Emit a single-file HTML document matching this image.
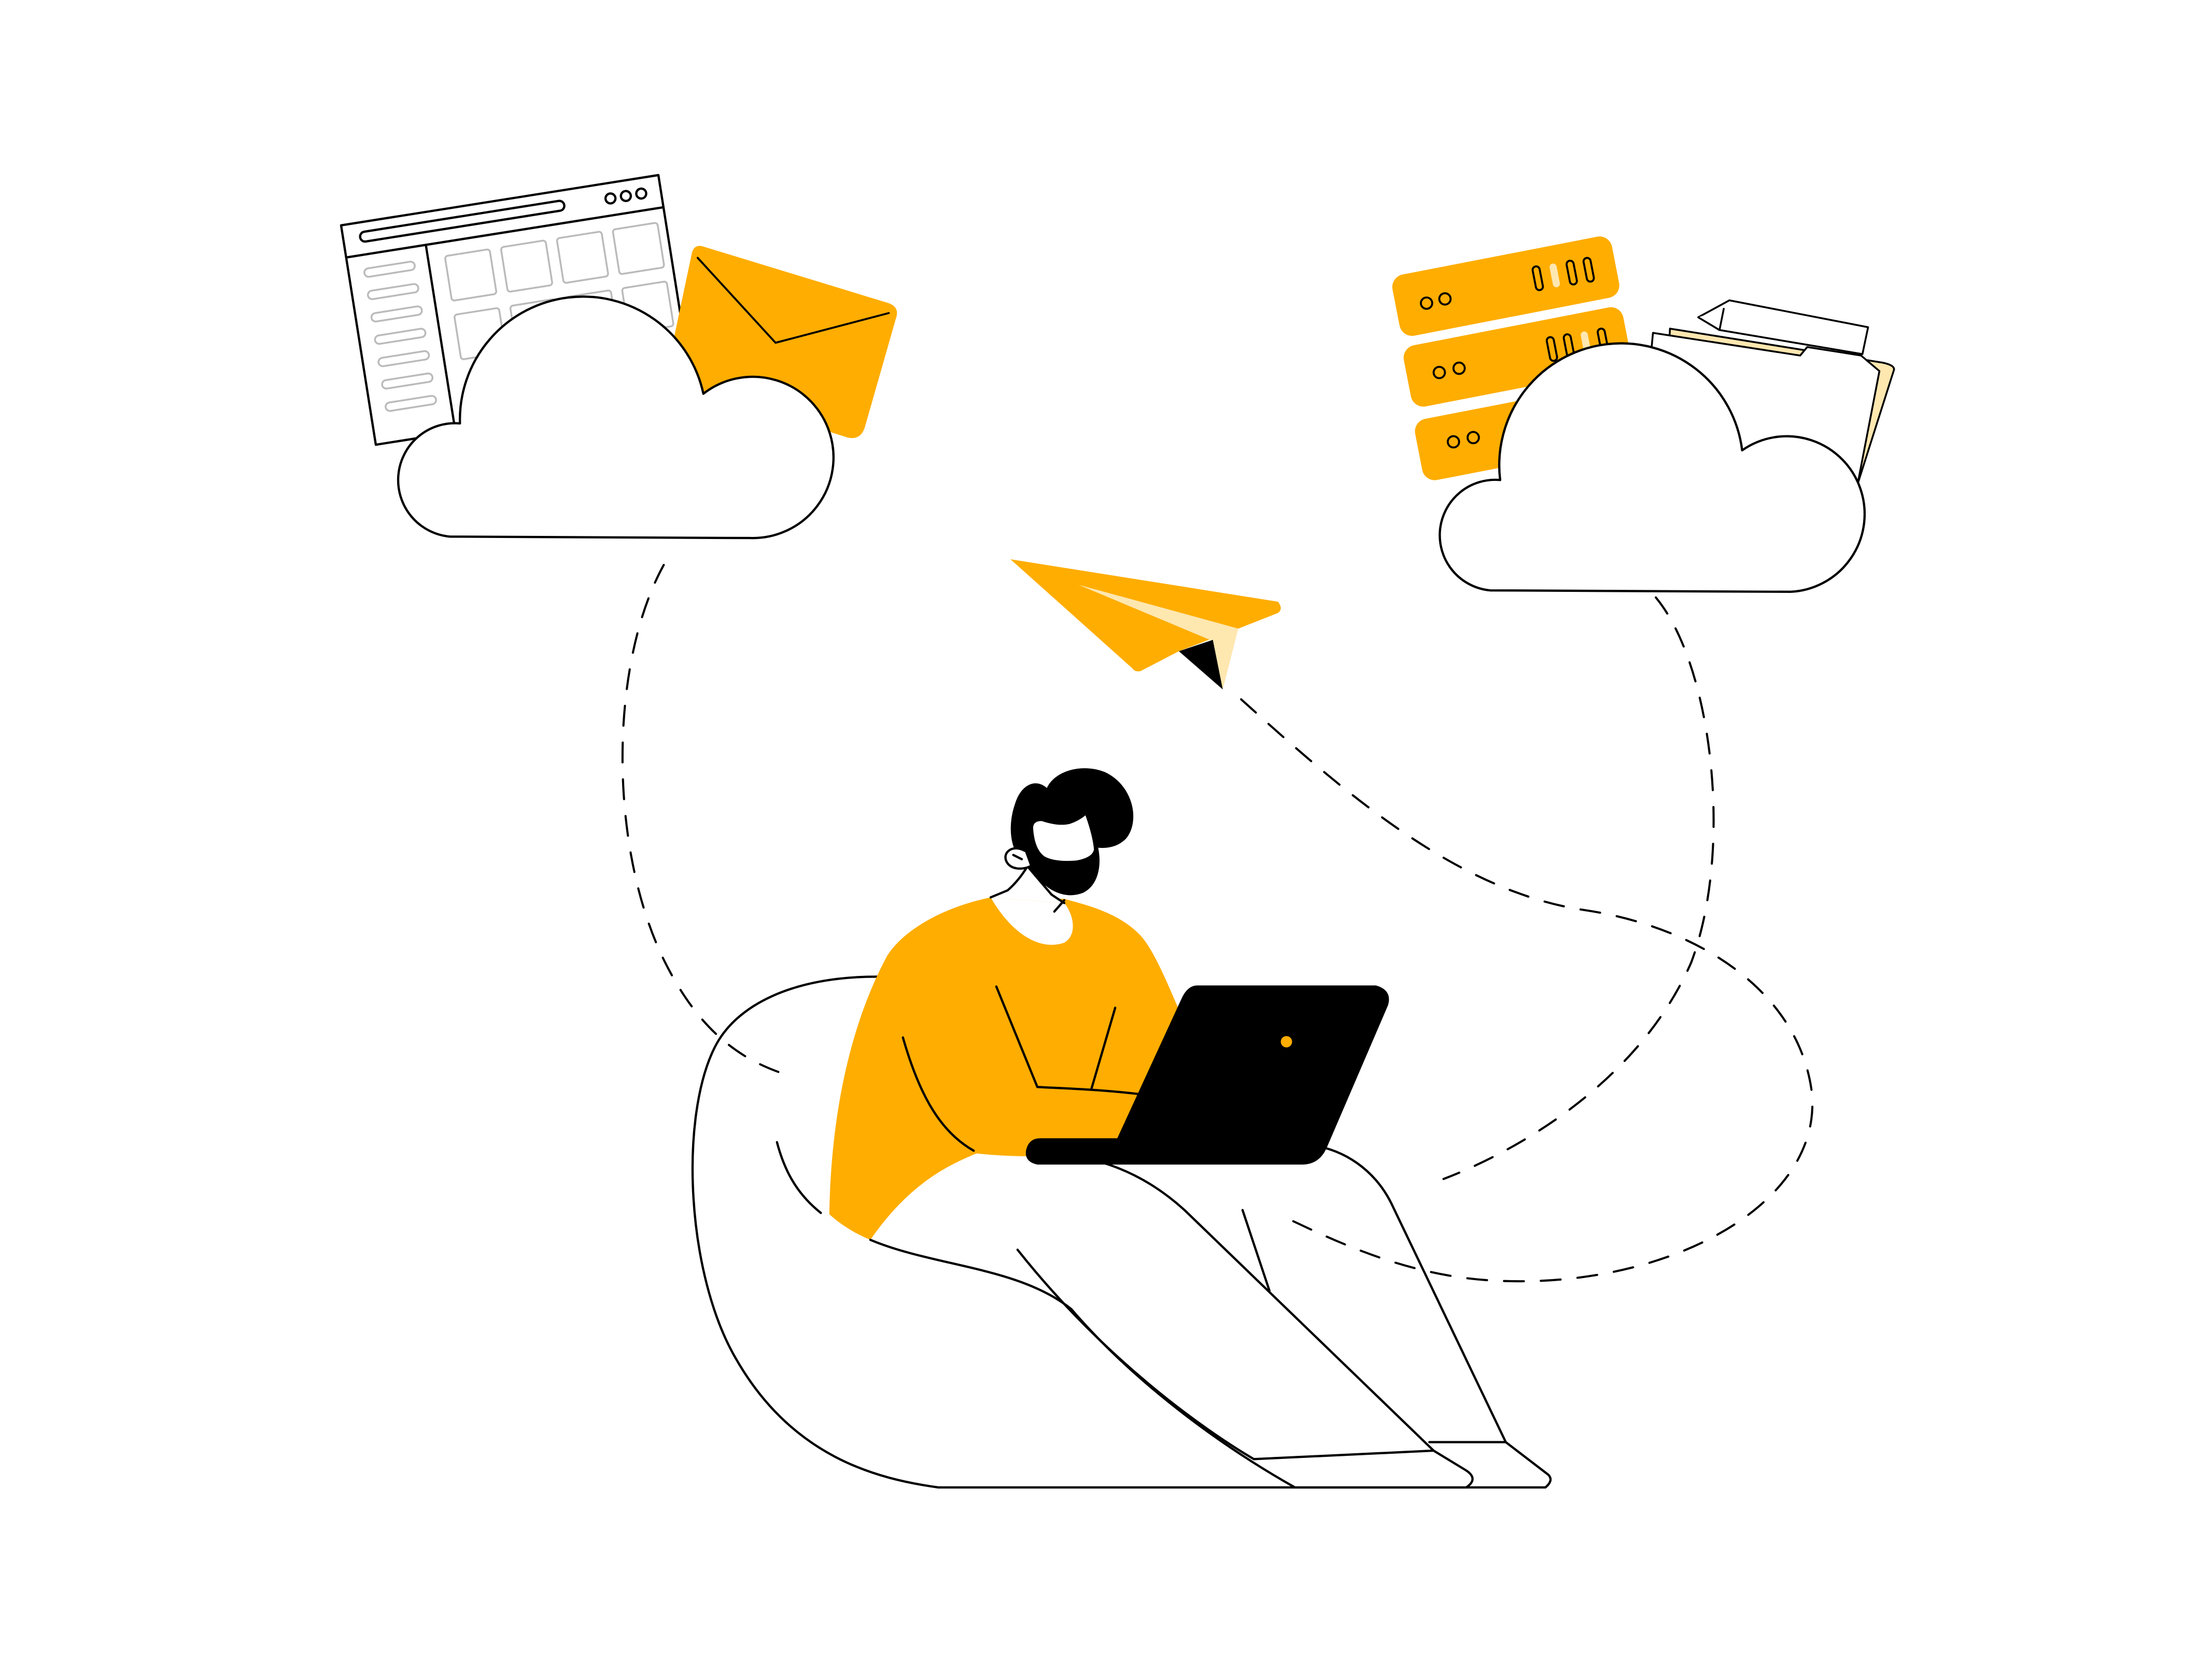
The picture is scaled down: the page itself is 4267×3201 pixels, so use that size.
<!DOCTYPE html>
<html><head><meta charset="utf-8"><style>
html,body{margin:0;padding:0;background:#fff;}
svg{display:block;}
</style></head><body>
<svg width="4267" height="3201" viewBox="0 0 1563 1172" xmlns="http://www.w3.org/2000/svg" fill="none" stroke="#000" stroke-width="1.6" stroke-linecap="round" stroke-linejoin="round">
<rect x="0" y="0" width="1563" height="1172" fill="#fff" stroke="none"/>

<!-- dashed paths -->
<g stroke-dasharray="14 12" stroke-width="1.5">
<path d="M1170,422 C1210,470 1225,600 1195,680 C1160,760 1080,810 1020,833"/>
<path d="M877,494 C950,560 1030,630 1120,643 C1200,655 1270,700 1280,770 C1290,850 1180,910 1060,905 C1000,903 950,880 912,862"/>
</g>

<!-- browser window -->
<g transform="rotate(-9 241 159)" fill="#fff">
<rect x="241" y="159" width="227" height="157"/>
<line x1="241" y1="182" x2="468" y2="182"/>
<rect x="253" y="166" width="146" height="7" rx="3.5"/>
<circle cx="432" cy="170" r="3.5"/><circle cx="443" cy="170" r="3.5"/><circle cx="454" cy="170" r="3.5"/>
<line x1="298" y1="182" x2="298" y2="316"/>
<g stroke="#bbb" stroke-width="1.3">
<rect x="252" y="192" width="36" height="6" rx="3"/><rect x="252" y="208" width="36" height="6" rx="3"/><rect x="252" y="224" width="36" height="6" rx="3"/><rect x="252" y="240" width="36" height="6" rx="3"/><rect x="252" y="256" width="36" height="6" rx="3"/><rect x="252" y="272" width="36" height="6" rx="3"/><rect x="252" y="288" width="36" height="6" rx="3"/>
<rect x="310" y="192" width="32" height="32" rx="2"/><rect x="350" y="192" width="32" height="32" rx="2"/><rect x="390" y="192" width="32" height="32" rx="2"/><rect x="430" y="192" width="32" height="32" rx="2"/>
<rect x="310" y="234" width="32" height="32" rx="2"/><rect x="350" y="234" width="32" height="32" rx="2"/><rect x="390" y="234" width="32" height="32" rx="2"/><rect x="430" y="234" width="32" height="32" rx="2"/>
</g>
</g>

<!-- envelope -->
<path d="M489,178 Q491,172 497,174 L628,214 Q636,217 633,225 L611,302 Q608,311 599,309 L470,268 Z" fill="#FFAD00" stroke="none"/>
<polyline points="493,182 548,242 628,221" stroke-width="1.4"/>

<!-- cloud 1 -->
<path d="M318,379 L530,380 A57,57 0 1 0 497,278 A87,87 0 0 0 325,299 A40,40 0 1 0 318,379 Z" fill="#fff"/>

<!-- folders -->
<g fill="#fff" stroke-width="1.3">
<path d="M1180,232 L1330,256 Q1340,258 1338,262 L1310,350 L1175,330 Z" fill="#FFE7B0"/>
<path d="M1168,235 L1272,251 L1277,245 L1315,251 L1328,262 L1312,345 L1160,320 Z"/>
<path d="M1200,224 L1222,212 L1320,231 L1316,250 L1215,233 Z"/>
<path d="M1200,224 L1215,233 L1218,218"/>
</g>

<!-- servers -->
<g fill="#FFAD00" stroke="none">
<rect x="985" y="180" width="158" height="44" rx="9" transform="rotate(-11 1064 202)"/>
<rect x="993" y="230" width="158" height="44" rx="9" transform="rotate(-11 1072 252)"/>
<rect x="1001" y="282" width="158" height="44" rx="9" transform="rotate(-11 1080 304)"/>
</g>
<g stroke-width="1.4">
<circle cx="1008" cy="214" r="4"/><circle cx="1021" cy="211" r="4"/>
<circle cx="1017" cy="263" r="4"/><circle cx="1031" cy="260" r="4"/>
<circle cx="1027" cy="312" r="4"/><circle cx="1041" cy="309" r="4"/>
<rect x="1084" y="188" width="5" height="17" rx="2.5" transform="rotate(-11 1086 196)"/>
<rect x="1096" y="186" width="5" height="17" rx="2.5" fill="#FFE7B0" stroke="none" transform="rotate(-11 1098 194)"/>
<rect x="1108" y="184" width="5" height="17" rx="2.5" transform="rotate(-11 1110 192)"/>
<rect x="1120" y="182" width="5" height="17" rx="2.5" transform="rotate(-11 1122 190)"/>
<rect x="1094" y="238" width="5" height="17" rx="2.5" transform="rotate(-11 1096 246)"/>
<rect x="1106" y="236" width="5" height="17" rx="2.5" transform="rotate(-11 1108 244)"/>
<rect x="1118" y="234" width="5" height="17" rx="2.5" fill="#FFE7B0" stroke="none" transform="rotate(-11 1120 242)"/>
<rect x="1130" y="232" width="5" height="17" rx="2.5" transform="rotate(-11 1132 240)"/>
</g>

<!-- cloud 2 -->
<path d="M1053,417 L1265,418 A55,55 0 1 0 1231,318 A86,86 0 0 0 1060,339 A39,39 0 1 0 1053,417 Z" fill="#fff"/>

<!-- paper plane -->
<path d="M714,395 L903,425 Q907,430 903,433 L875,444 L833,460 L806,474 Q802,475 800,472 Z" fill="#FFAD00" stroke="none"/>
<path d="M762,413 L875,444 L864,487 L855,452 Z" fill="#FFE7B0" stroke="none"/>
<path d="M833,460 L857,452 L864,487 Z" fill="#000" stroke="none"/>

<!-- beanbag -->
<path d="M620,690 C560,690 520,710 505,740 C480,790 485,900 520,960 C560,1030 620,1045 663,1051 L1092,1051 Q1098,1046 1094,1042 L1064,1019 L1010,1019" fill="#fff"/>
<path d="M549,807 C555,830 565,845 580,857"/>

<!-- left dashed path (drawn over beanbag) -->
<path d="M469,399 C430,470 430,600 470,680 C495,730 525,750 558,760" stroke-dasharray="14 12" stroke-width="1.5"/>

<!-- body shirt -->
<path d="M700,634 C670,640 640,655 627,675 C600,725 587,790 586,858 C595,866 605,872 615,876 C640,840 665,825 690,815 C720,818 760,818 790,812 L835,718 C825,695 815,670 805,660 C790,645 770,640 752,635 Z" fill="#FFAD00" stroke="none"/>
<path d="M700,634 C715,660 735,672 752,666 C762,660 758,645 752,638" fill="#fff" stroke="none"/>
<path d="M638,733 C650,775 665,800 688,813"/>
<path d="M704,697 L733,768 C755,769 780,770 805,773"/>
<path d="M788,712 L771,770"/>

<!-- legs -->
<path d="M615,876 C660,895 720,895 757,925 C800,975 860,1020 915,1051 L1036,1051 Q1045,1045 1036,1039 L1013,1025 L886,1031" fill="#fff"/>
<path d="M719,883 C780,960 850,1010 886,1031"/>
<path d="M760,817 C790,822 815,835 837,855 L1013,1025"/>
<path d="M932,810 C955,815 973,830 983,850 L1064,1019"/>
<path d="M878,855 L897,912"/>

<!-- laptop -->
<path d="M846,697 L972,697 Q983,700 980,710 L937,810 Q932,822 920,822 L733,822 Q724,820 726,812 Q728,805 735,805 L790,805 L836,705 Q840,697 846,697 Z" fill="#000"/>
<circle cx="909" cy="736" r="4" fill="#FFAD00" stroke="none"/>

<!-- head -->
<path d="M700,634 L712,629 Q720,622 726,612 L743,632 L752,638" fill="#fff"/>
<path d="M745,644 L752,636"/>
<path d="M727,610 C715,605 712,585 718,568 C722,555 732,550 740,558 C745,545 765,540 780,546 C800,555 805,580 795,592 C790,597 783,599 775,598 C778,612 775,625 765,630 C750,636 735,625 727,610 Z" fill="#000"/>
<path d="M730,585 Q730,580 736,580 Q748,584 756,582 Q762,580 767,576 Q772,590 773,600 Q772,606 760,608 Q745,609 738,605 Q731,600 730,585 Z" fill="#fff" stroke="none"/>
<path d="M724,601 C715,596 707,603 712,610 C716,615 724,614 728,612" fill="#fff"/>
<path d="M716,604 L722,607"/>
</svg>
</body></html>
